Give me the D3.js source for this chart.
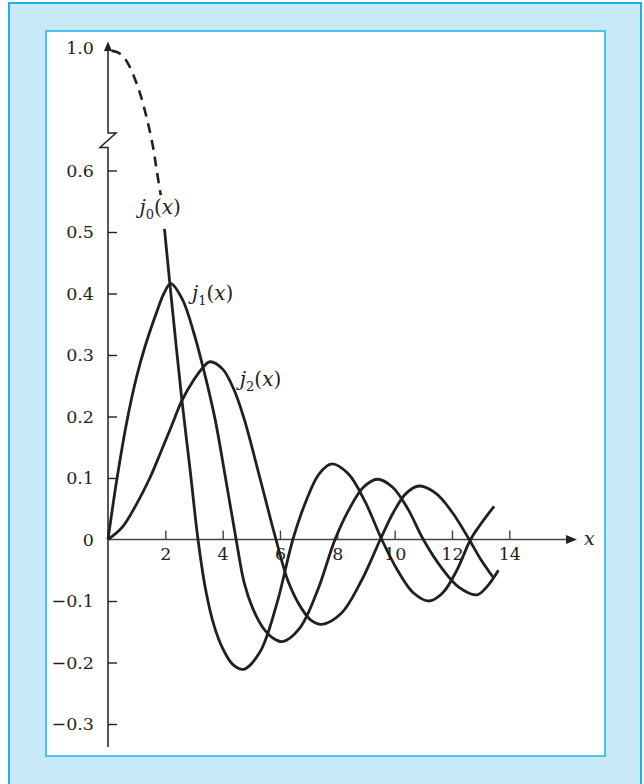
<!DOCTYPE html>
<html>
  <head>
    <meta charset="utf-8">
    <title>Spherical Bessel functions</title>
    <script src="https://d3js.org/d3.v7.min.js"></script>
    <style>
      body { margin: 0; background: #fff; }
      svg text { font-family: "DejaVu Serif", "Liberation Serif", serif; fill: #231f20; }
    </style>
  </head>
  <body>
    <div id="chart"></div>
    <script>
      // values
      const xTicks = [2, 4, 6, 8, 10, 12, 14];
      const yTicks = [1.0, 0.6, 0.5, 0.4, 0.3, 0.2, 0.1, 0, -0.1, -0.2, -0.3];

      // j0 above the break (dashed)
      const j0UpperX = [0.12, 0.4, 0.66, 1.06, 1.37, 1.58, 1.7, 1.84];
      const j0UpperY = [0.99, 0.98, 0.948, 0.846, 0.725, 0.636, 0.6, 0.56];

      const j0X = [1.97, 2.16, 2.57, 2.86, 3.14, 3.4, 3.7, 4.0, 4.35, 4.73, 5.3, 5.88, 6.45, 6.9, 7.36, 7.81, 8.39, 8.97, 9.55, 10.1, 10.65, 11.2, 11.68, 12.17, 12.65, 13.05, 13.47];
      const j0Y = [0.505, 0.415, 0.23, 0.115, 0, -0.08, -0.14, -0.177, -0.203, -0.211, -0.183, -0.106, 0, 0.0615, 0.1065, 0.123, 0.1065, 0.0615, 0, -0.05, -0.0866, -0.1, -0.0866, -0.05, 0, 0.028, 0.054];

      const j1X = [0, 0.3, 0.65, 1.0, 1.3, 1.7, 1.95, 2.19, 2.6, 3.0, 3.31, 3.73, 4.1, 4.47, 4.75, 5.05, 5.4, 5.75, 6.08, 6.69, 7.31, 7.92, 8.41, 8.91, 9.4, 9.93, 10.47, 11.0, 11.62, 12.25, 12.87, 13.25, 13.62];
      const j1Y = [0, 0.095, 0.19, 0.265, 0.315, 0.37, 0.4, 0.416, 0.39, 0.335, 0.281, 0.197, 0.1, 0, -0.07, -0.112, -0.143, -0.16, -0.166, -0.144, -0.083, 0, 0.049, 0.085, 0.098, 0.085, 0.049, 0, -0.045, -0.078, -0.09, -0.075, -0.05];

      const j2X = [0, 0.5, 1.0, 1.46, 1.85, 2.22, 2.57, 3.0, 3.3, 3.56, 4.0, 4.4, 4.75, 5.3, 5.86, 6.3, 6.75, 7.1, 7.46, 8.14, 8.82, 9.5, 9.95, 10.4, 10.86, 11.44, 12.02, 12.6, 13.0, 13.43];
      const j2Y = [0, 0.02, 0.058, 0.1, 0.143, 0.185, 0.225, 0.26, 0.279, 0.289, 0.277, 0.243, 0.196, 0.1, 0, -0.07, -0.112, -0.132, -0.138, -0.12, -0.069, 0, 0.0435, 0.075, 0.087, 0.075, 0.0435, 0, -0.032, -0.061];

      const labels = [
        { sub: "0", x: 1.1, y: 0.53 },
        { sub: "1", x: 2.93, y: 0.39 },
        { sub: "2", x: 4.6, y: 0.25 }
      ];

      const W = 644, H = 784;
      const ink = "#231f20", blue = "#1cb0ec";
      const serif = "'DejaVu Serif', 'Liberation Serif', serif";

      const svg = d3.select("#chart").append("svg")
        .attr("width", W).attr("height", H);

      // frame
      svg.append("rect").attr("x", 9).attr("y", 3).attr("width", 632).attr("height", H + 10)
        .attr("fill", "#c7e9f8").attr("stroke", blue).attr("stroke-width", 2);
      svg.append("rect").attr("x", 46).attr("y", 31).attr("width", 559).attr("height", 725)
        .attr("fill", "#fff").attr("stroke", blue).attr("stroke-width", 1.5);

      const x = d3.scaleLinear().domain([0, 14]).range([108, 509.3]);
      // broken axis: compressed above 0.65
      const y = d3.scaleLinear().domain([-0.35, 0.65, 1.0]).range([754.75, 139.75, 48]);

      const fmt = d => d === 0 ? "0" : d3.format(".1f")(d);

      // y ticks
      const gy = svg.append("g").attr("transform", "translate(" + x(0) + ",0)")
        .call(d3.axisLeft(y).tickValues(yTicks).tickSizeInner(-9).tickSizeOuter(0)
          .tickPadding(14).tickFormat(fmt))
        .attr("font-family", serif).attr("font-size", 17.5);
      gy.select(".domain").remove();
      gy.selectAll(".tick line").attr("stroke", ink).attr("stroke-width", 1.4)
        .filter(d => d === 0 || d === 1).remove();
      gy.selectAll(".tick text").attr("fill", ink);

      // x ticks
      const gx = svg.append("g").attr("transform", "translate(0," + y(0) + ")")
        .call(d3.axisBottom(x).tickValues(xTicks).tickSizeInner(-9).tickSizeOuter(0)
          .tickPadding(8))
        .attr("font-family", serif).attr("font-size", 17.5);
      gx.select(".domain").remove();
      gx.selectAll(".tick line").attr("stroke", "#444").attr("stroke-width", 1.4);
      gx.selectAll(".tick text").attr("fill", ink);

      // axis lines
      const x0 = x(0), yb1 = 133, yb2 = 147.5;
      svg.append("path")
        .attr("d", "M" + x0 + ",48 V" + yb1 + " H" + (x0 + 8) + " L" + (x0 - 8) + "," + yb2 +
          " H" + x0 + " V747")
        .attr("fill", "none").attr("stroke", ink).attr("stroke-width", 1.5);
      svg.append("path")
        .attr("d", "M" + x0 + ",41.5 L" + (x0 - 4) + ",51 L" + (x0 + 4) + ",51 Z")
        .attr("fill", ink);
      svg.append("line").attr("x1", x0).attr("x2", 568).attr("y1", y(0)).attr("y2", y(0))
        .attr("stroke", "#444").attr("stroke-width", 1.5);
      svg.append("path")
        .attr("d", "M577," + y(0) + " L566," + (y(0) - 4.5) + " L566," + (y(0) + 4.5) + " Z")
        .attr("fill", ink);
      svg.append("text").attr("x", 584).attr("y", y(0) + 5).attr("font-size", 19)
        .attr("font-style", "italic").text("x");

      // curves
      const line = d3.line().x(d => x(d[0])).y(d => y(d[1])).curve(d3.curveCatmullRom.alpha(0.5));
      const zip = (a, b) => a.map((v, i) => [v, b[i]]);

      svg.append("path").datum(zip(j0UpperX, j0UpperY))
        .attr("d", line).attr("fill", "none").attr("stroke", ink)
        .attr("stroke-width", 2.6).attr("stroke-dasharray", "10,7");

      [zip(j0X, j0Y), zip(j1X, j1Y), zip(j2X, j2Y)].forEach(pts => {
        svg.append("path").datum(pts)
          .attr("d", line).attr("fill", "none").attr("stroke", ink)
          .attr("stroke-width", 2.8).attr("stroke-linejoin", "round");
      });

      // curve labels
      labels.forEach(l => {
        const t = svg.append("text").attr("x", x(l.x)).attr("y", y(l.y)).attr("font-size", 20);
        t.append("tspan").attr("font-style", "italic").text("j");
        t.append("tspan").attr("font-size", 13).attr("dy", 5).text(l.sub);
        t.append("tspan").attr("dy", -5).text("(");
        t.append("tspan").attr("font-style", "italic").text("x");
        t.append("tspan").text(")");
      });
    </script>
  </body>
</html>
